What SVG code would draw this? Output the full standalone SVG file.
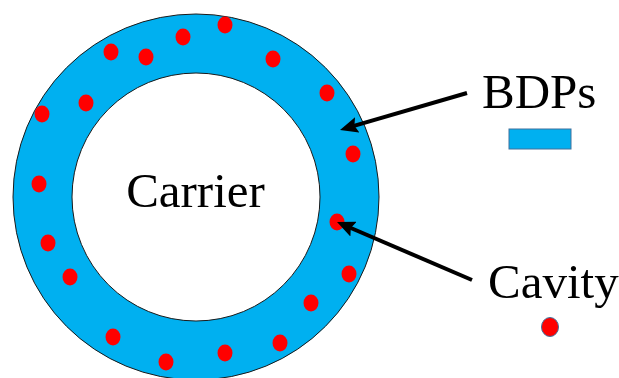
<svg xmlns="http://www.w3.org/2000/svg" width="619" height="378" viewBox="0 0 619 378">
<style>
.lbl{font-family:"Liberation Serif","Times New Roman",serif;font-size:49px;fill:#000}
.dot{fill:#FF0000}
.arr{stroke:#000;stroke-width:4;fill:none}
</style>
<defs>
<marker id="ah" viewBox="0 0 18 16" refX="8" refY="8" markerWidth="18" markerHeight="16" orient="auto" markerUnits="userSpaceOnUse">
<path d="M0,0 L18,8 L0,16 L3,8 z" fill="#000"/>
</marker>
</defs>
<rect width="619" height="378" fill="#fff"/>
<g id="ring">
<circle cx="196" cy="197" r="183" fill="#00B0F0" stroke="#1a1a1a" stroke-width="1"/>
<circle cx="196" cy="197" r="124" fill="#fff" stroke="#1a1a1a" stroke-width="1"/>
</g>
<g id="cavities">
<ellipse class="dot" cx="225" cy="25" rx="7.5" ry="8.5"/>
<ellipse class="dot" cx="183" cy="37" rx="7.5" ry="8.5"/>
<ellipse class="dot" cx="111" cy="52" rx="7.5" ry="8.5"/>
<ellipse class="dot" cx="146" cy="57" rx="7.5" ry="8.5"/>
<ellipse class="dot" cx="273" cy="59" rx="7.5" ry="8.5"/>
<ellipse class="dot" cx="327" cy="93" rx="7.5" ry="8.5"/>
<ellipse class="dot" cx="86" cy="103" rx="7.5" ry="8.5"/>
<ellipse class="dot" cx="42" cy="114" rx="7.5" ry="8.5"/>
<ellipse class="dot" cx="353" cy="154" rx="7.5" ry="8.5"/>
<ellipse class="dot" cx="39" cy="184" rx="7.5" ry="8.5"/>
<ellipse class="dot" cx="337" cy="222" rx="7.5" ry="8.5"/>
<ellipse class="dot" cx="48" cy="243" rx="7.5" ry="8.5"/>
<ellipse class="dot" cx="70" cy="277" rx="7.5" ry="8.5"/>
<ellipse class="dot" cx="349" cy="274" rx="7.5" ry="8.5"/>
<ellipse class="dot" cx="311" cy="303" rx="7.5" ry="8.5"/>
<ellipse class="dot" cx="113" cy="337" rx="7.5" ry="8.5"/>
<ellipse class="dot" cx="280" cy="343" rx="7.5" ry="8.5"/>
<ellipse class="dot" cx="225" cy="353" rx="7.5" ry="8.5"/>
<ellipse class="dot" cx="166" cy="362" rx="7.5" ry="8.5"/>
</g>
<g id="carrier">
<text class="lbl" x="195.5" y="207" text-anchor="middle">Carrier</text>
</g>
<g id="bdps">
<text class="lbl" x="482" y="108">BDPs</text>
<rect x="509" y="129" width="62" height="20" fill="#00B0F0" stroke="#41719C" stroke-width="1"/>
</g>
<g id="cavity">
<text class="lbl" x="488" y="298">Cavity</text>
<ellipse cx="550" cy="327" rx="8.5" ry="9.5" fill="#FF0000" stroke="#41719C" stroke-width="1"/>
</g>
<g id="connectors">
<line class="arr" x1="467" y1="93" x2="349.6" y2="127.2" marker-end="url(#ah)"/>
<line class="arr" x1="472" y1="280" x2="346.2" y2="226" marker-end="url(#ah)"/>
</g>
</svg>
